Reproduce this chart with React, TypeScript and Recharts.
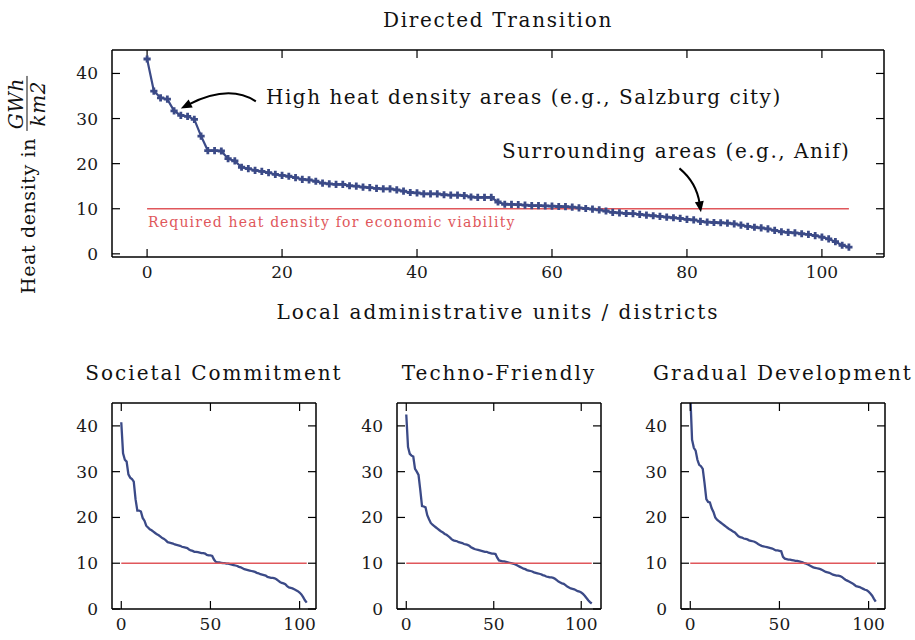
import { LineChart, Line, XAxis, YAxis, ReferenceDot } from 'recharts'

// heat density per district, sorted (GWh/km2)
const directedTransition = [
  43.2, 36.1, 34.6, 34.3, 31.7, 30.7, 30.5, 29.8, 26.1, 22.9,
  22.9, 22.8, 21.1, 20.6, 19.2, 18.9, 18.5, 18.3, 18.0, 17.6,
  17.4, 17.2, 16.9, 16.5, 16.4, 16.1, 15.7, 15.5, 15.4, 15.4,
  15.1, 15.0, 14.8, 14.7, 14.5, 14.4, 14.4, 14.2, 13.9, 13.6,
  13.5, 13.3, 13.3, 13.3, 13.1, 13.0, 13.0, 12.9, 12.6, 12.5,
  12.5, 12.5, 11.5, 11.0, 10.95, 10.9, 10.8, 10.7, 10.7, 10.65,
  10.6, 10.5, 10.45, 10.35, 10.2, 10.05, 9.9, 9.75, 9.5, 9.2,
  9.1, 8.95, 8.9, 8.75, 8.6, 8.45, 8.3, 8.15, 8.0, 7.85,
  7.65, 7.55, 7.2, 7.05, 6.95, 6.9, 6.8, 6.65, 6.35, 6.1,
  5.9, 5.75, 5.55, 5.2, 4.9, 4.75, 4.65, 4.45, 4.3, 4.05,
  3.7, 3.3, 2.7, 1.9, 1.5,
]

const societalCommitment = [
  40.8, 34.0, 32.6, 32.2, 29.4, 28.7, 28.4, 27.8, 24.0, 21.5,
  21.5, 21.3, 19.9, 19.3, 18.2, 17.8, 17.4, 17.2, 16.9, 16.6,
  16.3, 16.1, 15.8, 15.5, 15.3, 15.0, 14.6, 14.5, 14.4, 14.3,
  14.1, 14.0, 13.9, 13.8, 13.6, 13.5, 13.4, 13.3, 13.0, 12.8,
  12.7, 12.5, 12.5, 12.4, 12.3, 12.2, 12.2, 12.1, 11.8, 11.7,
  11.7, 11.6, 10.8, 10.3, 10.2, 10.2, 10.1, 10.0, 10.0, 9.9,
  9.9, 9.8, 9.7, 9.6, 9.5, 9.4, 9.2, 9.1, 8.9, 8.7,
  8.6, 8.5, 8.4, 8.3, 8.2, 8.1, 7.9, 7.8, 7.6, 7.5,
  7.4, 7.3, 7.0, 6.9, 6.8, 6.8, 6.7, 6.5, 6.2, 5.9,
  5.7, 5.6, 5.4, 5.0, 4.7, 4.6, 4.5, 4.3, 4.1, 3.9,
  3.6, 3.2, 2.6, 1.9, 1.4,
]

const technoFriendly = [
  42.5, 35.4, 33.9, 33.5, 33.3, 30.6, 30.0, 29.3, 26.0, 22.5,
  22.4, 22.2, 20.5, 19.6, 18.8, 18.4, 18.1, 17.8, 17.5, 17.2,
  16.9, 16.7, 16.4, 16.2, 15.9, 15.6, 15.2, 15.0, 14.9, 14.8,
  14.6, 14.5, 14.4, 14.2, 14.1, 14.0, 13.8, 13.5, 13.3, 13.1,
  13.0, 12.9, 12.8, 12.7, 12.6, 12.5, 12.5, 12.3, 12.2, 12.1,
  12.1, 12.0, 11.2, 10.6, 10.5, 10.4, 10.4, 10.3, 10.2, 10.1,
  10.0, 9.9, 9.8, 9.6, 9.4, 9.2, 9.0, 8.8, 8.7, 8.5,
  8.4, 8.3, 8.2, 8.0, 7.9, 7.8, 7.7, 7.6, 7.4, 7.3,
  7.1, 7.0, 6.9, 6.9, 6.8, 6.6, 6.3, 6.0, 5.8, 5.6,
  5.5, 5.2, 4.9, 4.7, 4.5, 4.4, 4.3, 4.1, 3.9, 3.8,
  3.6, 3.3, 2.9, 2.4, 1.9, 1.5, 1.2,
]

const gradualDevelopment = [
  47.0, 37.0, 35.2, 34.6, 32.6, 31.5, 31.2, 30.6, 27.5, 24.0,
  23.4, 23.3, 22.0, 21.2, 20.0, 19.5, 19.2, 18.9, 18.6, 18.3,
  18.0, 17.7, 17.4, 17.2, 16.9, 16.7, 16.3, 15.9, 15.7, 15.6,
  15.4, 15.3, 15.2, 15.0, 14.9, 14.8, 14.7, 14.5, 14.2, 14.0,
  13.8, 13.7, 13.6, 13.5, 13.4, 13.3, 13.2, 13.0, 12.8, 12.8,
  12.7, 12.6, 11.4, 11.0, 10.9, 10.8, 10.8, 10.7, 10.6, 10.5,
  10.5, 10.4, 10.3, 10.2, 10.0, 9.9, 9.7, 9.5, 9.3, 9.1,
  9.0, 8.9, 8.8, 8.7, 8.5, 8.3, 8.1, 8.0, 7.9, 7.7,
  7.5, 7.4, 7.3, 7.3, 7.2, 7.0, 6.7, 6.4, 6.2, 6.0,
  5.8, 5.6, 5.3, 5.0, 4.9, 4.8, 4.6, 4.4, 4.2, 4.1,
  3.8, 3.4, 2.9, 2.2, 1.6,
]

const requiredDensity = 10
const topXTicks = [0, 20, 40, 60, 80, 100]
const smallXTicks = [0, 50, 100]
const yTicks = [0, 10, 20, 30, 40]

const NAVY = '#3b4a87'
const RED = '#e0575b'
const FONT = '"DejaVu Serif", serif'

const toRows = (values: number[]) =>
  values.map((v, i) => ({ x: i, value: v, threshold: requiredDensity }))

const spine = { stroke: '#000', strokeWidth: 1.5 }
const tickLn = { stroke: '#000', strokeWidth: 1.2 }
const tickText = { fontFamily: FONT, fontSize: 17, fill: '#1a1a1a' }
const blank = () => ''

// axes are 1px thick (recharts skips 0-sized axes), ticks point inwards
function frameAxes(xDomain: number[], xTicks: number[], yDomain: number[]) {
  return [
    <XAxis key="xb" xAxisId="b" dataKey="x" type="number" domain={xDomain} ticks={xTicks}
      allowDataOverflow interval={0} height={1} tickSize={-8} tickMargin={17}
      axisLine={spine} tickLine={tickLn} tick={tickText} />,
    <XAxis key="xt" xAxisId="t" orientation="top" dataKey="x" type="number" domain={xDomain}
      ticks={xTicks} allowDataOverflow interval={0} height={1} tickSize={-8}
      axisLine={spine} tickLine={tickLn} tickFormatter={blank} />,
    <YAxis key="yl" yAxisId="l" type="number" domain={yDomain} ticks={yTicks}
      allowDataOverflow interval={0} width={1} tickSize={-8} tickMargin={22}
      axisLine={spine} tickLine={tickLn} tick={tickText} />,
    <YAxis key="yr" yAxisId="r" orientation="right" type="number" domain={yDomain}
      ticks={yTicks} allowDataOverflow interval={0} width={1} tickSize={-8}
      axisLine={spine} tickLine={tickLn} tickFormatter={blank} />,
  ]
}

const PlusDot = (props: any) => {
  const { cx, cy } = props
  if (cx == null || cy == null) return null
  return (
    <path
      d={`M${cx - 3.6},${cy}H${cx + 3.6}M${cx},${cy - 3.6}V${cy + 3.6}`}
      stroke={NAVY}
      strokeWidth={2.8}
      fill="none"
    />
  )
}

// curved annotation arrow, tip offset from the data point
const makeArrow = (sx: number, sy: number, qx: number, qy: number, tx: number, ty: number) =>
  (props: any) => {
    const { cx, cy } = props
    if (cx == null || cy == null) return <g />
    const ex = cx + tx
    const ey = cy + ty
    const dx = ex - (cx + qx)
    const dy = ey - (cy + qy)
    const len = Math.hypot(dx, dy)
    const ux = dx / len
    const uy = dy / len
    const bx = ex - ux * 11
    const by = ey - uy * 11
    return (
      <g>
        <path
          d={`M${cx + sx},${cy + sy} Q${cx + qx},${cy + qy} ${bx + ux * 2},${by + uy * 2}`}
          stroke="#000"
          strokeWidth={2}
          fill="none"
        />
        <path
          d={`M${ex},${ey} L${bx - uy * 4.5},${by + ux * 4.5} L${bx + uy * 4.5},${by - ux * 4.5} Z`}
          fill="#000"
        />
      </g>
    )
  }

const cityArrow = makeArrow(75, -14, 48.5, -31.5, 0, -7)
const anifArrow = makeArrow(-21, -53, -4, -39, 0.5, -9)

const label = (extra: any) => ({
  position: 'absolute' as const,
  whiteSpace: 'nowrap' as const,
  fontFamily: FONT,
  color: '#111',
  ...extra,
})

function SmallPanel({ title, values, plotLeft }: { title: string; values: number[]; plotLeft: number }) {
  const n = values.length - 1
  const rows = toRows(values)
  return (
    <>
      <div style={label({ left: plotLeft + 102, top: 373, fontSize: 20, letterSpacing: 2, transform: 'translate(-50%,-50%)' })}>
        {title}
      </div>
      <div style={{ position: 'absolute', left: plotLeft - 90, top: 373 }}>
        <LineChart width={90 + 204 + 20} height={267} data={rows}
          margin={{ top: 29, right: 19, bottom: 30, left: 89 }}>
          {frameAxes([-0.05 * n, 1.05 * n], smallXTicks, [0, 45])}
          <Line xAxisId="b" yAxisId="l" dataKey="value" stroke={NAVY} strokeWidth={2.3}
            dot={false} isAnimationActive={false} />
          <Line xAxisId="b" yAxisId="l" dataKey="threshold" stroke={RED} strokeWidth={1.6}
            dot={false} isAnimationActive={false} />
        </LineChart>
      </div>
    </>
  )
}

export default function App() {
  const rows = toRows(directedTransition)
  const n = directedTransition.length - 1
  return (
    <div style={{ position: 'absolute', left: 0, top: 0, width: 915, height: 640, overflow: 'hidden', background: '#fff' }}>
      <div style={label({ left: 498, top: 20, fontSize: 20, letterSpacing: 1.7, transform: 'translate(-50%,-50%)' })}>
        Directed Transition
      </div>

      <div style={{ position: 'absolute', left: 0, top: 0 }}>
        <LineChart width={915} height={300} data={rows}
          margin={{ top: 49, right: 30, bottom: 42, left: 111 }}>
          {frameAxes([-0.05 * n, 1.05 * n], topXTicks, [-0.7, 45.2])}
          <Line xAxisId="b" yAxisId="l" dataKey="value" stroke={NAVY} strokeWidth={2.2}
            dot={<PlusDot />} isAnimationActive={false} />
          <Line xAxisId="b" yAxisId="l" dataKey="threshold" stroke={RED} strokeWidth={1.6}
            dot={false} isAnimationActive={false} />
          <ReferenceDot xAxisId="b" yAxisId="l" x={5} y={directedTransition[5]} shape={cityArrow} />
          <ReferenceDot xAxisId="b" yAxisId="l" x={82} y={directedTransition[82]} shape={anifArrow} />
        </LineChart>
      </div>

      <div style={label({ left: 266, top: 97, fontSize: 20, letterSpacing: 1.5, transform: 'translateY(-50%)' })}>
        High heat density areas (e.g., Salzburg city)
      </div>
      <div style={label({ left: 502, top: 151, fontSize: 20, letterSpacing: 1.5, transform: 'translateY(-50%)' })}>
        Surrounding areas (e.g., Anif)
      </div>
      <div style={label({ left: 148, top: 222, fontSize: 14, letterSpacing: 1.2, color: RED, transform: 'translateY(-50%)' })}>
        Required heat density for economic viability
      </div>

      <div style={label({ left: 498, top: 312, fontSize: 20, letterSpacing: 2, transform: 'translate(-50%,-50%)' })}>
        Local administrative units / districts
      </div>

      <div style={label({
        left: 27, top: 185, fontSize: 19, letterSpacing: 0.6,
        transform: 'translate(-50%,-50%) rotate(-90deg)',
        display: 'flex', alignItems: 'center',
      })}>
        <span>Heat density in&nbsp;</span>
        <span style={{ display: 'inline-flex', flexDirection: 'column', alignItems: 'center', fontStyle: 'italic', lineHeight: 1.05, fontSize: 20 }}>
          <span style={{ padding: '0 2px' }}>GWh</span>
          <span style={{ borderTop: '1.5px solid #111', alignSelf: 'stretch', height: 0 }} />
          <span>km2</span>
        </span>
      </div>

      <SmallPanel title="Societal Commitment" values={societalCommitment} plotLeft={112} />
      <SmallPanel title="Techno-Friendly" values={technoFriendly} plotLeft={397} />
      <SmallPanel title="Gradual Development" values={gradualDevelopment} plotLeft={681} />
    </div>
  )
}
